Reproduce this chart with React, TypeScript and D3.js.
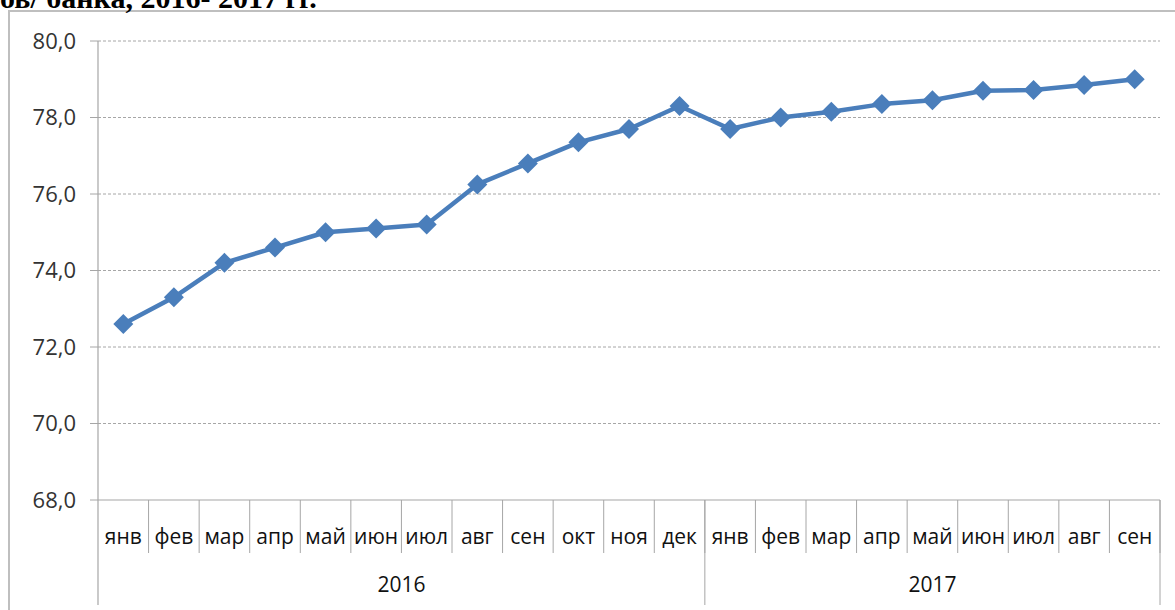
import React, { useEffect, useRef } from 'react';
import * as d3 from 'd3';

const months = ['янв', 'фев', 'мар', 'апр', 'май', 'июн', 'июл', 'авг', 'сен', 'окт', 'ноя', 'дек',
  'янв', 'фев', 'мар', 'апр', 'май', 'июн', 'июл', 'авг', 'сен'];
const years = ['2016', '2017'];
const yearCounts = [12, 9];
const values = [72.6, 73.3, 74.2, 74.6, 75.0, 75.1, 75.2, 76.25, 76.8, 77.35, 77.7, 78.3,
  77.7, 78.0, 78.15, 78.35, 78.45, 78.7, 78.72, 78.85, 79.0];
const yTicks = [68, 70, 72, 74, 76, 78, 80];

export default function App() {
  const ref = useRef<SVGSVGElement>(null);

  useEffect(() => {
    const svg = d3.select(ref.current);
    svg.selectAll('*').remove();

    const left = 98, right = 1160, top = 41, bottom = 500;
    const font = '"Open Sans", sans-serif';

    // frame and the cut-off title
    svg.append('rect').attr('x', 9).attr('y', 11).attr('width', 1180).attr('height', 620)
      .attr('fill', 'white').attr('stroke', '#bfbfbf').attr('stroke-width', 2);
    svg.append('text').attr('x', 0).attr('y', 8)
      .attr('font-family', '"Liberation Serif", serif').attr('font-weight', 'bold')
      .attr('font-size', 30).attr('fill', '#000')
      .text('ов/ банка, 2016- 2017 гг.');

    const x = d3.scaleBand().domain(d3.range(months.length).map(String)).range([left, right]);
    const y = d3.scaleLinear().domain([68, 80]).range([bottom, top]);

    const g = svg.append('g');

    // grid
    g.selectAll('.grid').data(yTicks.slice(1)).join('line')
      .attr('x1', left).attr('x2', right)
      .attr('y1', d => y(d)).attr('y2', d => y(d))
      .attr('stroke', '#a6a6a6').attr('stroke-width', 1).attr('stroke-dasharray', '3,2');

    // y axis
    g.append('line').attr('x1', left).attr('x2', left).attr('y1', top).attr('y2', 605)
      .attr('stroke', '#a6a6a6').attr('stroke-width', 1.2);
    g.selectAll('.yt').data(yTicks).join('line')
      .attr('x1', left - 8).attr('x2', left).attr('y1', d => y(d)).attr('y2', d => y(d))
      .attr('stroke', '#a6a6a6');
    g.selectAll('.yl').data(yTicks).join('text')
      .attr('x', 76).attr('y', d => y(d)).attr('dy', '0.35em').attr('text-anchor', 'end')
      .attr('font-family', font).attr('font-size', 22).attr('fill', '#333')
      .text(d => d3.format('.1f')(d).replace('.', ','));

    // x axis
    g.append('line').attr('x1', left).attr('x2', right).attr('y1', bottom).attr('y2', bottom)
      .attr('stroke', '#a6a6a6').attr('stroke-width', 1.2);
    g.selectAll('.xs').data(d3.range(1, months.length + 1)).join('line')
      .attr('x1', d => left + d * x.step()).attr('x2', d => left + d * x.step())
      .attr('y1', bottom).attr('y2', 553)
      .attr('stroke', '#a6a6a6');
    g.selectAll('.xl').data(months).join('text')
      .attr('x', (d, i) => (x(String(i)) as number) + x.bandwidth() / 2).attr('y', 537)
      .attr('dy', '0.35em').attr('text-anchor', 'middle')
      .attr('font-family', font).attr('font-size', 21).attr('fill', '#111')
      .text(d => d);

    // year groups
    let start = 0;
    years.forEach((yr, k) => {
      const end = start + yearCounts[k];
      const x0 = left + start * x.step(), x1 = left + end * x.step();
      g.append('line').attr('x1', x1).attr('x2', x1).attr('y1', bottom).attr('y2', 605)
        .attr('stroke', '#a6a6a6');
      g.append('text').attr('x', (x0 + x1) / 2).attr('y', 585).attr('dy', '0.35em')
        .attr('text-anchor', 'middle').attr('font-family', font).attr('font-size', 21)
        .attr('fill', '#111').text(yr);
      start = end;
    });

    // line
    const cx = (i: number) => (x(String(i)) as number) + x.bandwidth() / 2;
    const line = d3.line<number>().x((d, i) => cx(i)).y(d => y(d));
    g.append('path').datum(values).attr('d', line).attr('fill', 'none')
      .attr('stroke', '#4a7ebb').attr('stroke-width', 4.5).attr('stroke-linejoin', 'round');

    g.selectAll('.pt').data(values).join('path')
      .attr('d', d3.symbol(d3.symbolSquare, 200)())
      .attr('transform', (d, i) => `translate(${cx(i)},${y(d)}) rotate(45)`)
      .attr('fill', '#4a7ebb');
  }, []);

  return (
    <svg ref={ref} width={1175} height={610}
      style={{ position: 'absolute', left: 0, top: 0, background: 'white' }} />
  );
}
